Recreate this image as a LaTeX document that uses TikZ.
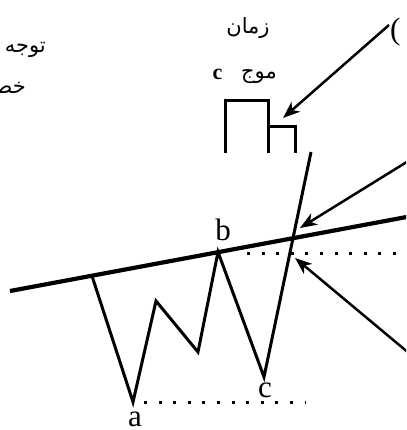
\documentclass[tikz,border=0pt]{standalone}
\usepackage{fontspec}
\setmainfont{Liberation Serif}
\newfontfamily\arabicfont[Script=Arabic]{DejaVu Sans}
\TeXXeTstate=1
\usetikzlibrary{arrows.meta}
\begin{document}
\begin{tikzpicture}[x=1pt,y=-1pt,
  trend/.style={line width=4.2pt},
  wave/.style={line width=3pt, line join=miter},
  pointer/.style={line width=2.5pt,-{Stealth[length=17pt,width=13pt,inset=5pt]}},
  dotline/.style={line width=3pt,dash pattern=on 3pt off 11.6pt},
  lbl/.style={inner sep=0pt,font=\fontsize{31}{31}\selectfont},
  smalllbl/.style={inner sep=0pt,font=\fontsize{22}{22}\selectfont\bfseries},
  ar/.style={inner sep=0pt,font=\fontsize{21}{24}\selectfont\arabicfont}]
\useasboundingbox (0,0) rectangle (406,430);
\clip (0,0) rectangle (406,430);
% points
\coordinate (t1) at (10,291);
\coordinate (t2) at (412,216);
\coordinate (z0) at (92,276);
\coordinate (za) at (133,402);
\coordinate (z2) at (156,301);
\coordinate (z3) at (198,352);
\coordinate (zb) at (218,252);
\coordinate (zc) at (264,377);
\coordinate (ztop) at (311,152);
% trend line
\draw[trend] (t1) -- (t2);
% wave
\draw[wave] (z0) -- (za) -- (z2) -- (z3) -- (zb) -- (zc) -- (ztop);
% dotted levels
\coordinate (da1) at (144,402);
\coordinate (da2) at (306,402);
\coordinate (db1) at (247,253);
\coordinate (db2) at (396,253);
\draw[dotline] (da1) -- (da2);
\draw[dotline] (db1) -- (db2);
% time box
\coordinate (r1) at (225,153);
\coordinate (r2) at (225,101);
\coordinate (r3) at (268,101);
\coordinate (r4) at (268,153);
\coordinate (r5) at (268,127);
\coordinate (r6) at (295,127);
\coordinate (r7) at (295,153);
\draw[wave] (r1) -- (r2) -- (r3) -- (r4);
\draw[wave] (r5) -- (r6) -- (r7);
% arrows
\coordinate (s1) at (389,25);
\coordinate (e1) at (283,118);
\coordinate (s2) at (410,160);
\coordinate (e2) at (300,228);
\coordinate (s3) at (410,354);
\coordinate (e3) at (295,258);
\draw[pointer] (s1) -- (e1);
\draw[pointer] (s2) -- (e2);
\draw[pointer] (s3) -- (e3);
% labels
\node[lbl] (la) at (135,419) {a};
\node[lbl] (lb) at (223,230) {b};
\node[lbl] (lc) at (265,390) {c};
\node[smalllbl,anchor=base] (lc2) at (217.5,80) {c};
\node[ar,anchor=base] (mowj) at (259,79) {\beginR موج\endR};
\node[ar,anchor=base] (zaman) at (248,34) {\beginR زمان\endR};
\node[ar,anchor=base east] (tavajoh) at (46,53) {\beginR توجه\endR};
\node[ar,anchor=base east] (khat) at (26,94) {\beginR خط\endR};
\node[lbl,anchor=west] (paren) at (390,32) {(};
\end{tikzpicture}
\end{document}
